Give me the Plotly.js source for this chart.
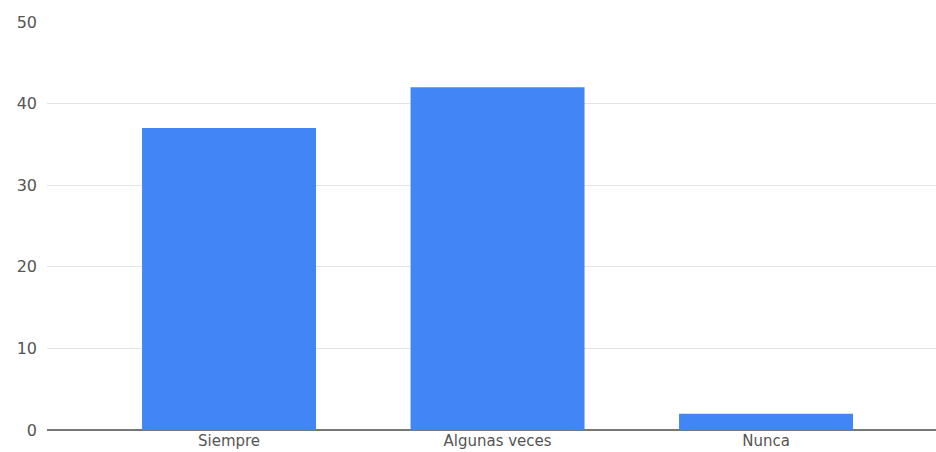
<!DOCTYPE html>
<html>
<head>
<meta charset="utf-8">
<script src="https://cdn.plot.ly/plotly-3.0.1.min.js"></script>
<style>html,body{margin:0;padding:0;background:#fff;}#chart{width:936px;height:452px;}</style>
</head>
<body>
<div id="chart"></div>
<script>
const categories = ["Siempre", "Algunas veces", "Nunca"];
const values = [37, 42, 2];
const yTicks = [0, 10, 20, 30, 40, 50];

const trace = {
  type: "bar",
  x: categories,
  y: values,
  width: 0.648,
  marker: { color: "#4285F4" },
  hoverinfo: "x+y"
};

const layout = {
  width: 936,
  height: 452,
  margin: { l: 47, r: 0, t: 22, b: 22 },
  paper_bgcolor: "#ffffff",
  plot_bgcolor: "#ffffff",
  showlegend: false,
  font: { family: "'DejaVu Sans', sans-serif", size: 17, color: "#555555" },
  xaxis: {
    type: "category",
    range: [-0.678, 2.633],
    showgrid: false,
    showline: false,
    zeroline: false,
    ticks: "",
    tickfont: { size: 15, color: "#555555" },
    ticklabelstandoff: 0,
    fixedrange: true
  },
  yaxis: {
    range: [0, 50],
    tickvals: yTicks,
    showgrid: true,
    gridcolor: "#e3e3e3",
    gridwidth: 1,
    zeroline: true,
    zerolinecolor: "#777777",
    zerolinewidth: 1.5,
    showline: false,
    ticks: "",
    tickfont: { size: 16, color: "#555555" },
    ticklabelstandoff: 9,
    fixedrange: true
  }
};

Plotly.newPlot("chart", [trace], layout, { displayModeBar: false, staticPlot: true });
</script>
</body>
</html>
